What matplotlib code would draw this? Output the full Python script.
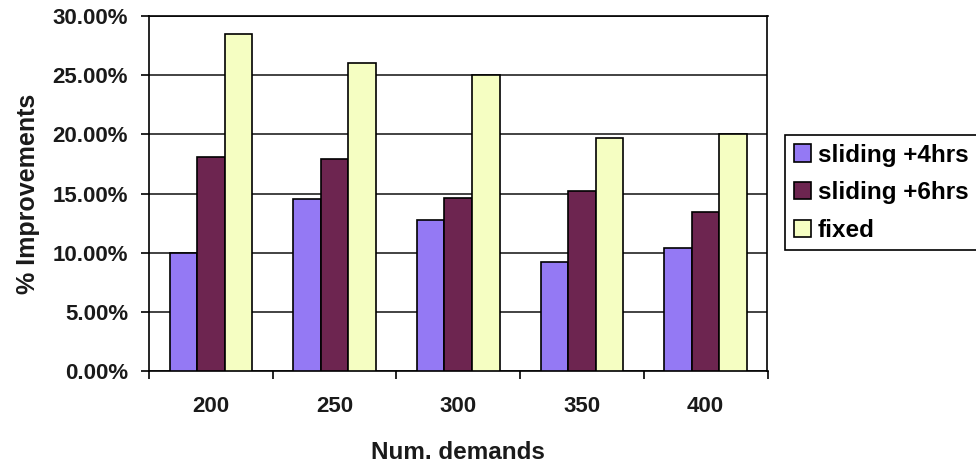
import matplotlib
matplotlib.use("Agg")
import matplotlib.pyplot as plt
import numpy as np
from matplotlib.ticker import FuncFormatter, FixedLocator

plt.rcParams['font.family'] = ['Liberation Sans', 'DejaVu Sans']

demands = ['200', '250', '300', '350', '400']
sliding_4hrs = [10.0, 14.5, 12.8, 9.2, 10.4]
sliding_6hrs = [18.05, 17.9, 14.65, 15.2, 13.4]
fixed = [28.45, 26.05, 25.0, 19.65, 20.0]

series = [
    ('sliding +4hrs', sliding_4hrs, '#9479F4'),
    ('sliding +6hrs', sliding_6hrs, '#6D2550'),
    ('fixed', fixed, '#F5FEC2'),
]

fig = plt.figure(figsize=(9.76, 4.62), dpi=100)
ax = fig.add_axes([149 / 976, 1 - 371 / 462, (767.5 - 149) / 976, (371 - 16) / 462])

x = np.arange(len(demands))
width = 0.2225
for i, (label, values, color) in enumerate(series):
    ax.bar(x + (i - 1) * width, values, width, color=color, edgecolor='black',
           linewidth=1.2, label=label, zorder=3)

ax.set_xlim(-0.5, len(demands) - 0.5)
ax.set_ylim(0, 30)
ax.yaxis.set_major_locator(FixedLocator(np.arange(0, 31, 5)))
ax.yaxis.set_major_formatter(FuncFormatter(lambda v, p: '{:.2f}%'.format(v)))
ax.grid(axis='y', color='#222222', linewidth=1.2, zorder=0)

ax.set_xticks(x)
ax.set_xticklabels(demands)
ax.set_xticks(np.arange(-0.5, len(demands)), minor=True)
ax.tick_params(axis='x', which='major', length=0, pad=18)
ax.tick_params(axis='x', which='minor', length=6, width=1.2, direction='out')
ax.tick_params(axis='y', length=6, width=1.2, direction='out', pad=9)
for lab in ax.get_xticklabels() + ax.get_yticklabels():
    lab.set_fontsize(16)
    lab.set_fontweight('bold')
    lab.set_color('#1a1a1a')

for sp in ax.spines.values():
    sp.set_linewidth(1.2)
    sp.set_color('black')

ax.set_xlabel('Num. demands', fontsize=17.5, fontweight='bold', labelpad=17, color='#1a1a1a')
ax.set_ylabel('% Improvements', fontsize=18, fontweight='bold', labelpad=9, color='#1a1a1a')

leg = fig.legend(loc='upper left', bbox_to_anchor=(785 / 976, 1 - 135 / 462),
                 borderaxespad=0, fancybox=False, shadow=False, framealpha=1,
                 edgecolor='black', prop={'size': 17.5, 'weight': 'bold'},
                 handlelength=0.7, handleheight=0.7, handletextpad=0.3,
                 labelspacing=0.6, borderpad=0.35)
leg.get_frame().set_linewidth(1.2)

fig.savefig('out.png', dpi=100)
